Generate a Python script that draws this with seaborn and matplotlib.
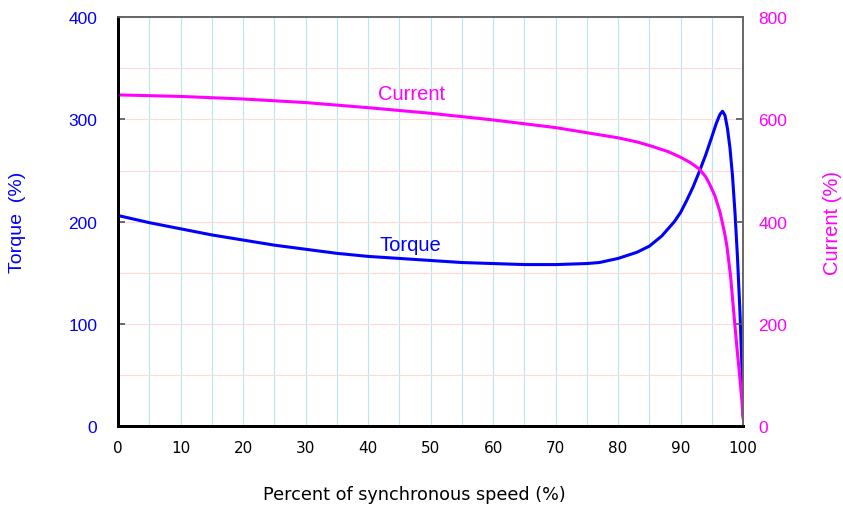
import numpy as np
import pandas as pd
import matplotlib
matplotlib.use("Agg")
import matplotlib.pyplot as plt
import seaborn as sns

# Данные
speed_torque = [0, 5, 10, 15, 20, 25, 30, 35, 40, 45, 50, 55, 60, 65, 70, 75, 77, 80, 83, 85, 87,
                89, 90, 91, 92, 93, 94, 95, 95.7, 96.3, 96.7, 97.1, 97.5, 97.9, 98.3, 98.7, 99.1, 99.5, 99.8, 100]
torque = [206, 199, 193, 187, 182, 177, 173, 169, 166, 164, 162, 160, 159, 158, 158, 159, 160, 164, 170, 176, 186,
          200, 209, 221, 234, 249, 265, 283, 296, 305, 308, 304, 291, 272, 245, 209, 165, 111, 60, 10]

speed_current = [0, 10, 20, 30, 40, 50, 60, 70, 77, 80, 83, 85, 88, 90, 91.5, 93, 94, 94.7, 95.5,
                 96.3, 97, 97.4, 98, 98.5, 99, 99.5, 99.8, 100]
current = [648, 645, 640, 633, 623, 612, 599, 584, 570, 564, 556, 549, 537, 526, 516, 503, 488, 472, 450,
           419, 380, 353, 293, 223, 155, 92, 50, 14]

df_t = pd.DataFrame({"speed": speed_torque, "torque": torque})
df_c = pd.DataFrame({"speed": speed_current, "current": current})

sns.set_style("white")
plt.rcParams['font.family'] = ['DejaVu Sans']
plt.rcParams['text.color'] = 'black'
arial = ['Liberation Sans', 'DejaVu Sans']

blue = "#0000ff"
magenta = "#ff00ff"

fig, ax = plt.subplots(figsize=(8.43, 5.06), dpi=100)
fig.subplots_adjust(left=0.14, right=0.8815, top=0.964, bottom=0.156)

ax2 = ax.twinx()

sns.lineplot(data=df_t, x="speed", y="torque", ax=ax, color=blue, lw=2.2)
sns.lineplot(data=df_c, x="speed", y="current", ax=ax2, color=magenta, lw=2.2)

ax.set_xlim(0, 100)
ax.set_ylim(0, 400)
ax2.set_ylim(0, 800)

ax.set_xticks(np.arange(0, 101, 10))
ax.set_xticks(np.arange(5, 100, 10), minor=True)
ax.set_yticks(np.arange(0, 401, 100))
ax.set_yticks(np.arange(50, 400, 100), minor=True)
ax2.set_yticks(np.arange(0, 801, 200))

ax.grid(True, which="both", axis="x", color="#b8e8ec", lw=0.8)
ax.grid(True, which="both", axis="y", color="#ffd8d8", lw=0.8)
ax.set_axisbelow(True)
ax2.grid(False)

ax.tick_params(axis="x", which="both", direction="in", length=5, width=1.5, color="#333333",
               labelsize=11, pad=10, labelcolor="black")
ax.tick_params(axis="y", which="major", direction="in", length=5, width=1.2, color="#555555",
               labelsize=12.5, pad=15, labelcolor=blue)
ax.tick_params(axis="y", which="minor", length=0)
ax2.tick_params(axis="y", direction="in", length=5, width=1.2, color="#555555",
                labelsize=12.5, pad=11, labelcolor=magenta)
for lab in ax.get_yticklabels() + ax2.get_yticklabels():
    lab.set_family(arial)

for a in (ax, ax2):
    a.spines["left"].set_color("black")
    a.spines["left"].set_linewidth(2)
    a.spines["bottom"].set_color("black")
    a.spines["bottom"].set_linewidth(2)
    a.spines["top"].set_color("#666666")
    a.spines["top"].set_linewidth(1.2)
    a.spines["right"].set_color("#666666")
    a.spines["right"].set_linewidth(1.2)

ax.set_xlabel("")
ax.set_ylabel("")
ax2.set_ylabel("")

fig.text(414 / 843, 1 - 495 / 506, "Percent of synchronous speed (%)", fontsize=12.7,
         color="black", ha="center", va="center")
fig.text(18 / 843, 1 - 222 / 506, "Torque  (%)", fontsize=14, color=blue, family=arial,
         rotation=90, ha="center", va="center")
fig.text(833 / 843, 1 - 223 / 506, "Current (%)", fontsize=14.5, color=magenta, family=arial,
         rotation=90, ha="center", va="center")

ax.text(46.7, 178, "Torque", color=blue, fontsize=14.5, family=arial, ha="center", va="center")
ax.text(46.9, 325, "Current", color=magenta, fontsize=14.5, family=arial, ha="center", va="center")

plt.savefig("out.png", dpi=100)
